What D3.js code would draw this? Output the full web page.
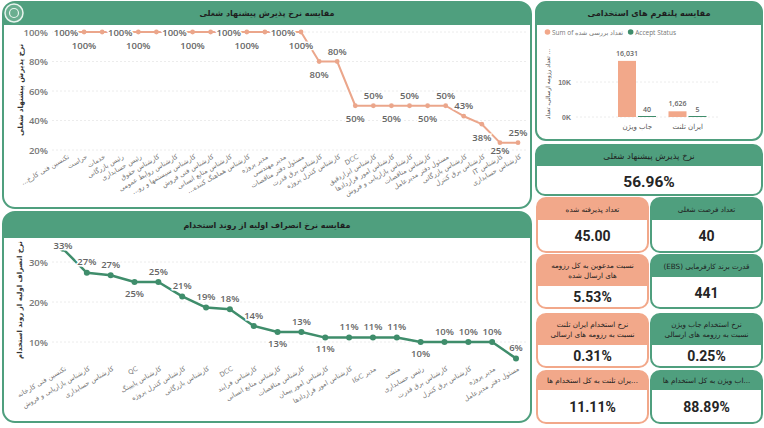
<!DOCTYPE html>
<html>
<head>
<meta charset="utf-8">
<script src="https://cdn.jsdelivr.net/npm/d3@7"></script>
<style>
body{margin:0;background:#fff;}
svg{display:block;font-family:"Open Sans","DejaVu Sans",sans-serif;}
</style>
</head>
<body>
<svg id="dash"></svg>
<script>
// offer acceptance rate per job title (%)
const acceptCats = ["...تکنسین فنی کارخ", "حراست", "خدمات", "رئیس بازرگانی", "رئیس حسابداری", "کارشناس حقوق",
  "کارشناس روابط عمومی", "...کارشناس سیستمها و رو", "کارشناس فنی فروش", "کارشناس منابع انسانی",
  "...کارشناس هماهنگ کننده", "مدیر پروژه", "مدیر مهندسی", "مسئول دفتر مناقصات", "کارشناس برق قدرت",
  "کارشناس کنترل پروژه", "DCC", "کارشناس ابزاردقیق", "کارشناس امور قراردادها", "کارشناس بازاریابی و فروش",
  "کارشناس مناقصات", "مسئول دفتر مدیرعامل", "کارشناس بازرگانی", "کارشناس برق کنترل", "IT کارشناس", "کارشناس حسابداری"];
const acceptRates = [100, 100, 100, 100, 100, 100, 100, 100, 100, 100, 100, 100, 100, 100,
  80, 80, 50, 50, 50, 50, 50, 50, 42.9, 37.5, 25, 25];
const acceptTicks = [20, 40, 60, 80, 100];

// early drop-out rate per job title (%)
const dropCats = ["تکنسین فنی کارخانه", "کارشناس بازاریابی و فروش", "کارشناس حسابداری", "QC", "کارشناس پایپینگ",
  "کارشناس کنترل پروژه", "کارشناس بازرگانی", "DCC", "کارشناس فرایند", "کارشناس منابع انسانی", "کارشناس مناقصات",
  "کارشناس امور پیمان", "کارشناس امور قراردادها", "I&C مدیر", "منشی", "رئیس حسابداری", "کارشناس برق قدرت",
  "کارشناس برق کنترل", "مدیر پروژه", "مسئول دفتر مدیرعامل"];
const dropRates = [33.3, 27.3, 26.7, 25, 25, 21.4, 18.6, 18.2, 14, 12.5, 12.5, 11.1, 11.1, 11.1, 11.1, 10, 10, 10, 10, 5.9];
const dropTicks = [10, 20, 30];

// platforms
const platforms = ["جاب ویژن", "ایران تلنت"];
const reviewedCV = [16031, 1626];
const acceptedCount = [40, 5];
const platformTicks = [0, 10000];

// kpi cards
const offerRate = 56.96;
const pinkTitles = ["تعداد پذیرفته شده", "نسبت مدعوین به کل رزومه|های ارسال شده",
  "نرخ استخدام ایران تلنت|نسبت به رزومه های ارسالی", "...یران تلنت به کل استخدام ها"];
const pinkValues = [45, 5.53, 0.31, 11.11];
const greenTitles = ["تعداد فرصت شغلی", "قدرت برند کارفرمایی (EBS)",
  "نرخ استخدام جاب ویژن|نسبت به رزومه های ارسالی", "...اب ویژن به کل استخدام ها"];
const greenValues = [40, 441, 0.25, 88.89];

const W = 764, H = 428;
const GREEN = "#4f9f7e", SALMON = "#f2a88a", LINE_S = "#eba68b", LINE_G = "#3f8d6b";
const FA = "'DejaVu Sans',sans-serif";
const NUM = "Roboto,'Open Sans',sans-serif";
const pct2 = v => v.toFixed(2) + "%";

const svg = d3.select("#dash").attr("width", W).attr("height", H);
const defs = svg.append("defs");
let clipN = 0;

function panel(x, y, w, h, hh, color, title, fs, r, weight) {
  const id = "clip" + (clipN++);
  defs.append("clipPath").attr("id", id).append("rect")
    .attr("x", x).attr("y", y).attr("width", w).attr("height", h).attr("rx", r);
  const g = svg.append("g");
  g.append("rect").attr("x", x).attr("y", y).attr("width", w).attr("height", h).attr("rx", r).attr("fill", "#fff");
  g.append("rect").attr("clip-path", `url(#${id})`).attr("x", x).attr("y", y).attr("width", w).attr("height", hh).attr("fill", color);
  g.append("rect").attr("x", x).attr("y", y).attr("width", w).attr("height", h).attr("rx", r)
    .attr("fill", "none").attr("stroke", color).attr("stroke-width", 2);
  const lines = title.split("|");
  const lh = fs * 1.35;
  const t = g.append("text").attr("direction", "rtl").attr("text-anchor", "middle")
    .attr("font-family", FA).attr("font-size", fs).attr("font-weight", weight).attr("fill", "#1e1e1e");
  lines.forEach((l, k) => t.append("tspan").attr("x", x + w / 2)
    .attr("y", y + hh / 2 + (k - (lines.length - 1) / 2) * lh + fs * 0.36).text(l));
  return g;
}

// greedy data labels, skip the ones that would overlap
function dataLabels(g, cats, vals, x, y, o) {
  const placed = [];
  vals.forEach((v, i) => {
    const px = x(cats[i]), py = y(v);
    const t = g.append("text").attr("x", px).attr("text-anchor", "middle").attr("dominant-baseline", "central")
      .attr("font-size", 9.5).attr("font-weight", 600).attr("fill", "#666")
      .attr("stroke", "#fff").attr("stroke-width", 3).attr("paint-order", "stroke")
      .text(Math.round(v) + "%");
    const w = t.node().getComputedTextLength(), h = o.h;
    const firstOfRun = i > 0 && vals[i - 1] !== v && vals[i + 1] === v;
    const sides = firstOfRun ? ["below", "above"] : ["above", "below"];
    let ok = false;
    for (const s of sides) {
      const cy = s === "above" ? Math.max(py - o.up, o.top) : Math.min(py + o.down, o.bottom);
      const b = {x0: px - w / 2 - o.gap / 2, x1: px + w / 2 + o.gap / 2, y0: cy - h / 2, y1: cy + h / 2};
      if (!placed.some(p => p.x0 < b.x1 && b.x0 < p.x1 && p.y0 < b.y1 && b.y0 < p.y1)) {
        placed.push(b); t.attr("y", cy); ok = true; break;
      }
    }
    if (!ok) t.remove();
  });
}

function lineChart(cats, vals, x, y, ticks, o) {
  const g = svg.append("g");
  // grid
  g.selectAll(".grid").data(ticks).enter().append("line")
    .attr("x1", 52).attr("x2", 526).attr("y1", d => y(d)).attr("y2", d => y(d))
    .attr("stroke", "#ececec").attr("stroke-dasharray", "2,2");
  const ya = g.append("g").attr("transform", "translate(50,0)")
    .call(d3.axisLeft(y).tickValues(ticks).tickFormat(d => d + "%").tickSize(0).tickPadding(2));
  ya.select(".domain").remove();
  ya.selectAll("text").attr("font-size", 9.5).attr("font-weight", 600).attr("fill", "#777").attr("font-family", "'Open Sans',sans-serif");

  const xa = g.append("g").attr("transform", `translate(0,${o.axisY})`)
    .call(d3.axisBottom(x).tickSize(0));
  xa.select(".domain").remove();
  xa.selectAll("text").attr("x", 0).attr("y", 0).attr("dy", "0.35em")
    .attr("transform", "translate(2,6) rotate(-30)").style("text-anchor", "end")
    .attr("font-size", 6.6).attr("fill", "#777").attr("font-family", FA);

  g.append("text").attr("transform", `translate(20,${o.titleY}) rotate(-90)`).attr("direction", "rtl")
    .attr("text-anchor", "middle").attr("dominant-baseline", "central")
    .attr("font-family", FA).attr("font-size", o.titleSize).attr("font-weight", "bold").attr("fill", "#333").text(o.title);

  const line = d3.line().x((d, i) => x(cats[i])).y(d => y(d));
  g.append("path").datum(vals).attr("d", line).attr("fill", "none")
    .attr("stroke", o.color).attr("stroke-width", o.sw).attr("stroke-linejoin", "round");
  g.selectAll(".dot").data(vals).enter().append("circle")
    .attr("cx", (d, i) => x(cats[i])).attr("cy", d => y(d)).attr("r", o.r).attr("fill", o.color);
  dataLabels(g.append("g"), cats, vals, x, y, o);
}

// ---------- top-left: acceptance rate
panel(3, 2, 528, 206, 23, GREEN, "مقایسه نرخ پذیرش پیشنهاد شغلی", 8, 12, "bold");
svg.append("circle").attr("cx", 14).attr("cy", 13).attr("r", 9).attr("fill", "#6aae90").attr("stroke", "#e8f4ee").attr("stroke-width", 1.5);
svg.append("circle").attr("cx", 14).attr("cy", 13).attr("r", 4.5).attr("fill", "none").attr("stroke", "#e8f4ee").attr("stroke-width", 1.2);
const xTop = d3.scalePoint().domain(acceptCats).range([66, 518]);
const yTop = d3.scaleLinear().domain([20, 100]).range([150, 32]);
lineChart(acceptCats, acceptRates, xTop, yTop, acceptTicks,
  {axisY: 150, titleY: 90, titleSize: 7.2, title: "نرخ پذیرش پیشنهاد شغلی", color: LINE_S, sw: 2, r: 2.4,
   up: 10.5, down: 13, top: 32, bottom: 150, gap: 12, h: 9});

// ---------- bottom-left: drop-out rate
panel(3, 212, 528, 210, 26, GREEN, "مقایسه نرخ انصراف اولیه از روند استخدام", 8, 12, "bold");
const xDrop = d3.scalePoint().domain(dropCats).range([63, 516]);
const yDrop = d3.scaleLinear().domain([10, 30]).range([342, 262]);
lineChart(dropCats, dropRates, xDrop, yDrop, dropTicks,
  {axisY: 362, titleY: 300, titleSize: 7, title: "نرخ انصراف اولیه از روند استخدام", color: LINE_G, sw: 2.5, r: 3,
   up: 11, down: 11, top: 245, bottom: 362, gap: 3, h: 8});

// ---------- top-right: platforms
panel(536, 2, 226, 138, 23, GREEN, "مقایسه پلتفرم های استخدامی", 8.2, 10, "bold");
const xP = d3.scaleBand().domain(platforms).range([612, 713]);
const xSub = d3.scaleBand().domain(["reviewed", "accepted"]).range([6, 44]).paddingInner(0.1);
const yP = d3.scaleLinear().domain([0, 20000]).range([117, 47]);
const pg = svg.append("g");
pg.selectAll(".pgrid").data(platformTicks).enter().append("line")
  .attr("x1", 576).attr("x2", 718).attr("y1", d => yP(d)).attr("y2", d => yP(d))
  .attr("stroke", "#ececec").attr("stroke-dasharray", "2,2");
const pya = pg.append("g").attr("transform", "translate(573,0)")
  .call(d3.axisLeft(yP).tickValues(platformTicks).tickFormat(d => d / 1000 + "K").tickSize(0).tickPadding(2));
pya.select(".domain").remove();
pya.selectAll("text").attr("font-size", 7).attr("font-weight", 600).attr("fill", "#777");
const series = [{key: "reviewed", vals: reviewedCV, color: SALMON}, {key: "accepted", vals: acceptedCount, color: LINE_G}];
series.forEach(s => {
  platforms.forEach((p, i) => {
    const bx = xP(p) + xSub(s.key), by = yP(s.vals[i]);
    pg.append("rect").attr("x", bx).attr("y", Math.min(by, yP(0) - 1)).attr("width", xSub.bandwidth())
      .attr("height", Math.max(1, yP(0) - by)).attr("fill", s.color);
    pg.append("text").attr("x", bx + xSub.bandwidth() / 2).attr("y", by - 5).attr("text-anchor", "middle")
      .attr("font-size", 7).attr("font-weight", 600).attr("fill", "#666").text(d3.format(",")(s.vals[i]));
  });
});
pg.selectAll(".pcat").data(platforms).enter().append("text")
  .attr("x", d => xP(d) + xP.bandwidth() / 2).attr("y", 129).attr("text-anchor", "middle")
  .attr("font-family", FA).attr("font-size", 7).attr("fill", "#555").text(d => d);
pg.append("text").attr("transform", "translate(548,84) rotate(-90)").attr("text-anchor", "middle")
  .attr("dominant-baseline", "central").attr("font-family", FA).attr("font-size", 5.8).attr("fill", "#444")
  .text("تعداد رزومه ارسالی، تعداد ...");
// legend
const legendItems = [{label: "Sum of تعداد بررسی شده", color: SALMON}, {label: "Accept Status", color: LINE_G}];
let lx = 545;
legendItems.forEach(it => {
  pg.append("circle").attr("cx", lx + 2.5).attr("cy", 32).attr("r", 2.8).attr("fill", it.color);
  const t = pg.append("text").attr("x", lx + 7).attr("y", 32).attr("dominant-baseline", "central")
    .attr("font-size", 6.5).attr("fill", "#777").text(it.label);
  lx += 7 + t.node().getComputedTextLength() + 5;
});

// ---------- offer rate KPI
panel(536, 145, 226, 50, 21, GREEN, "نرخ پذیرش پیشنهاد شغلی", 8.5, 9, "normal");
svg.append("text").attr("x", 649).attr("y", 182).attr("text-anchor", "middle").attr("dominant-baseline", "central")
  .attr("font-family", NUM).attr("font-weight", 700).attr("font-size", 15.5).attr("fill", "#252525").text(pct2(offerRate));

// ---------- cards
const rows = [{y: 198, h: 54, hh: [22, 22]}, {y: 255, h: 53, hh: [31, 22]}, {y: 314, h: 53, hh: [31, 31]}, {y: 371, h: 52, hh: [19, 19]}];
const pinkFmt = [d3.format(".2f"), pct2, pct2, pct2];
const greenFmt = [d3.format("d"), d3.format("d"), pct2, pct2];
rows.forEach((r, i) => {
  [{x: 537, c: SALMON, t: pinkTitles[i], v: pinkFmt[i](pinkValues[i]), hh: r.hh[0]},
   {x: 651, c: GREEN, t: greenTitles[i], v: greenFmt[i](greenValues[i]), hh: r.hh[1]}].forEach(cd => {
    panel(cd.x, r.y, 111, r.h, cd.hh, cd.c, cd.t, 7.2, 9, "normal");
    svg.append("text").attr("x", cd.x + 55.5).attr("y", r.y + cd.hh + (r.h - cd.hh) / 2).attr("text-anchor", "middle")
      .attr("dominant-baseline", "central").attr("font-family", NUM).attr("font-weight", 700)
      .attr("font-size", 14).attr("fill", "#252525").text(cd.v);
  });
});
</script>
</body>
</html>
